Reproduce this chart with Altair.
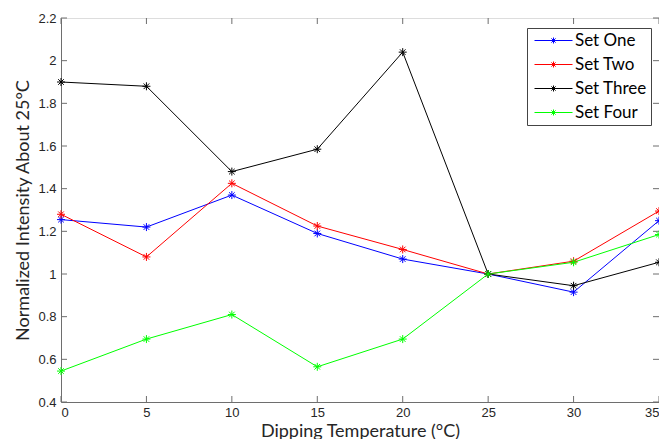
import altair as alt
import pandas as pd

temps = [0, 5, 10, 15, 20, 25, 30, 35]
series_names = ["Set One", "Set Two", "Set Three", "Set Four"]
series_colors = ["#0000ff", "#ff0000", "#000000", "#00ff00"]
set_one = [1.255, 1.22, 1.37, 1.19, 1.07, 1.0, 0.915, 1.25]
set_two = [1.28, 1.08, 1.425, 1.225, 1.115, 1.0, 1.06, 1.295]
set_three = [1.90, 1.88, 1.48, 1.585, 2.04, 1.0, 0.945, 1.055]
set_four = [0.545, 0.695, 0.81, 0.565, 0.695, 1.0, 1.055, 1.185]
x_ticks = [0, 5, 10, 15, 20, 25, 30, 35]
y_ticks = [0.4, 0.6, 0.8, 1.0, 1.2, 1.4, 1.6, 1.8, 2.0, 2.2]

rows = []
for name, vals in zip(series_names, [set_one, set_two, set_three, set_four]):
    for t, v in zip(temps, vals):
        rows.append({"series": name, "temp": t, "value": v})
df = pd.DataFrame(rows)
xt = pd.DataFrame({"t": x_ticks})
yt = pd.DataFrame({"t": y_ticks})

W, H = 598, 384
AX = "#6e6e6e"
ASTER = "M-1,0L1,0M0,-1L0,1M-0.7,-0.7L0.7,0.7M-0.7,0.7L0.7,-0.7"
LEG = "M-1,0L6.6,0M2.8,-0.6L2.8,0.6M2.2,0L3.4,0M2.38,-0.42L3.22,0.42M2.38,0.42L3.22,-0.42"

xscale = alt.Scale(domain=[0, 35], nice=False, zero=False)
yscale = alt.Scale(domain=[0.4, 2.2], nice=False, zero=False)

color = alt.Color(
    "series:N",
    scale=alt.Scale(domain=series_names, range=series_colors),
    sort=series_names,
    legend=alt.Legend(
        title=None, orient="none", legendX=466, legendY=10,
        symbolType=LEG, symbolSize=100, symbolStrokeWidth=1,
        labelFont="Lato", labelFontSize=17, labelColor="#000000",
        labelOffset=27, rowPadding=6, padding=4,
        strokeColor="#444444", fillColor="#ffffff",
    ),
)

x_enc = alt.X("temp:Q", scale=xscale, axis=alt.Axis(
    values=x_ticks, title="Dipping Temperature (°C)", ticks=False, grid=False,
    labelFont="Liberation Sans", labelFontSize=13, labelColor="#262626",
    labelPadding=4, titleFont="Lato", titleFontSize=18, titleFontWeight="normal",
    titleColor="#262626", titlePadding=3, domainColor=AX))
y_enc = alt.Y("value:Q", scale=yscale, axis=alt.Axis(
    values=y_ticks, format=".1~f", title="Normalized Intensity About 25°C", ticks=False, grid=False,
    labelFont="Liberation Sans", labelFontSize=13, labelColor="#262626",
    labelPadding=5, titleFont="Lato", titleFontSize=18, titleFontWeight="normal",
    titleColor="#262626", titlePadding=5, domainColor=AX))

lines = alt.Chart(df).mark_line(strokeWidth=1).encode(
    x=x_enc, y=y_enc, color=color, order=alt.Order("temp:Q"))
points = alt.Chart(df).mark_point(shape=ASTER, size=64, filled=False, strokeWidth=1, opacity=1).encode(
    x="temp:Q", y="value:Q", color=alt.Color("series:N", sort=series_names, legend=None))

xt_top = alt.Chart(xt).mark_rule(color=AX).encode(x=alt.X("t:Q", scale=xscale), y=alt.value(0), y2=alt.value(6))
xt_bot = alt.Chart(xt).mark_rule(color=AX).encode(x=alt.X("t:Q", scale=xscale), y=alt.value(H), y2=alt.value(H - 6))
yt_l = alt.Chart(yt).mark_rule(color=AX).encode(y=alt.Y("t:Q", scale=yscale), x=alt.value(0), x2=alt.value(6))
yt_r = alt.Chart(yt).mark_rule(color=AX).encode(y=alt.Y("t:Q", scale=yscale), x=alt.value(W), x2=alt.value(W - 6))

chart = alt.layer(xt_top, xt_bot, yt_l, yt_r, lines, points).properties(
    width=W, height=H,
    autosize=alt.AutoSizeParams(type="none"),
    padding={"left": 53, "top": 10, "right": 0, "bottom": 37},
).configure_view(stroke=AX, strokeWidth=1).configure(background="white")

chart.save("out.html", embed_options={"renderer": "svg", "actions": False})
